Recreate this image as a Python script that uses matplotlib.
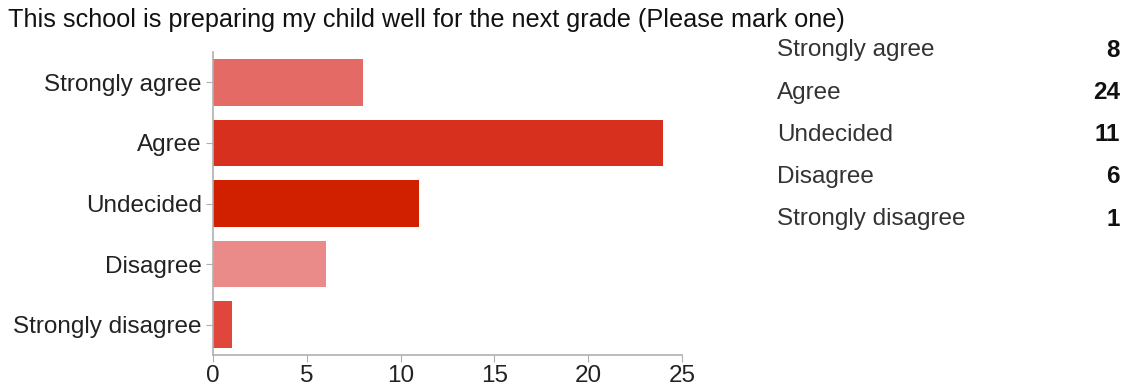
import matplotlib.pyplot as plt

categories = ["Strongly agree", "Agree", "Undecided", "Disagree", "Strongly disagree"]
counts = [8, 24, 11, 6, 1]
colors = ["#E46A66", "#D8301E", "#D02000", "#EB8B89", "#E0463C"]
xticks = [0, 5, 10, 15, 20, 25]

plt.rcParams["font.family"] = ["Liberation Sans", "DejaVu Sans"]
FS = 17.5

fig = plt.figure(figsize=(11.28, 3.89), dpi=100)
ax = fig.add_axes([0.1888, 0.0874, 0.4158, 0.7789])

ypos = list(range(len(categories)))
ax.barh(ypos, counts, height=0.77, color=colors, zorder=2)
ax.set_yticks(ypos)
ax.set_yticklabels(categories)
ax.set_ylim(len(categories) - 0.5, -0.5)
ax.set_xlim(0, 25)
ax.set_xticks(xticks)

for side in ("top", "right"):
    ax.spines[side].set_visible(False)
for side in ("left", "bottom"):
    ax.spines[side].set_color("#B0B0B0")
    ax.spines[side].set_linewidth(1.2)
ax.tick_params(axis="both", colors="#B0B0B0", labelcolor="#222222", labelsize=FS, length=5)
ax.tick_params(axis="y", pad=3)
ax.tick_params(axis="x", pad=2)

fig.text(0.007, 0.948, "This school is preparing my child well for the next grade (Please mark one)",
         fontsize=18.2, color="#111111", va="center", ha="left")

# summary table on the right
row_y = [0.871, 0.762, 0.654, 0.545, 0.437]
for label, value, y in zip(categories, counts, row_y):
    fig.text(0.689, y, label, fontsize=FS, color="#333333", va="center", ha="left")
    fig.text(0.993, y, str(value), fontsize=FS, color="#111111", va="center", ha="right",
             weight="bold")

fig.savefig("out.png", dpi=100)
